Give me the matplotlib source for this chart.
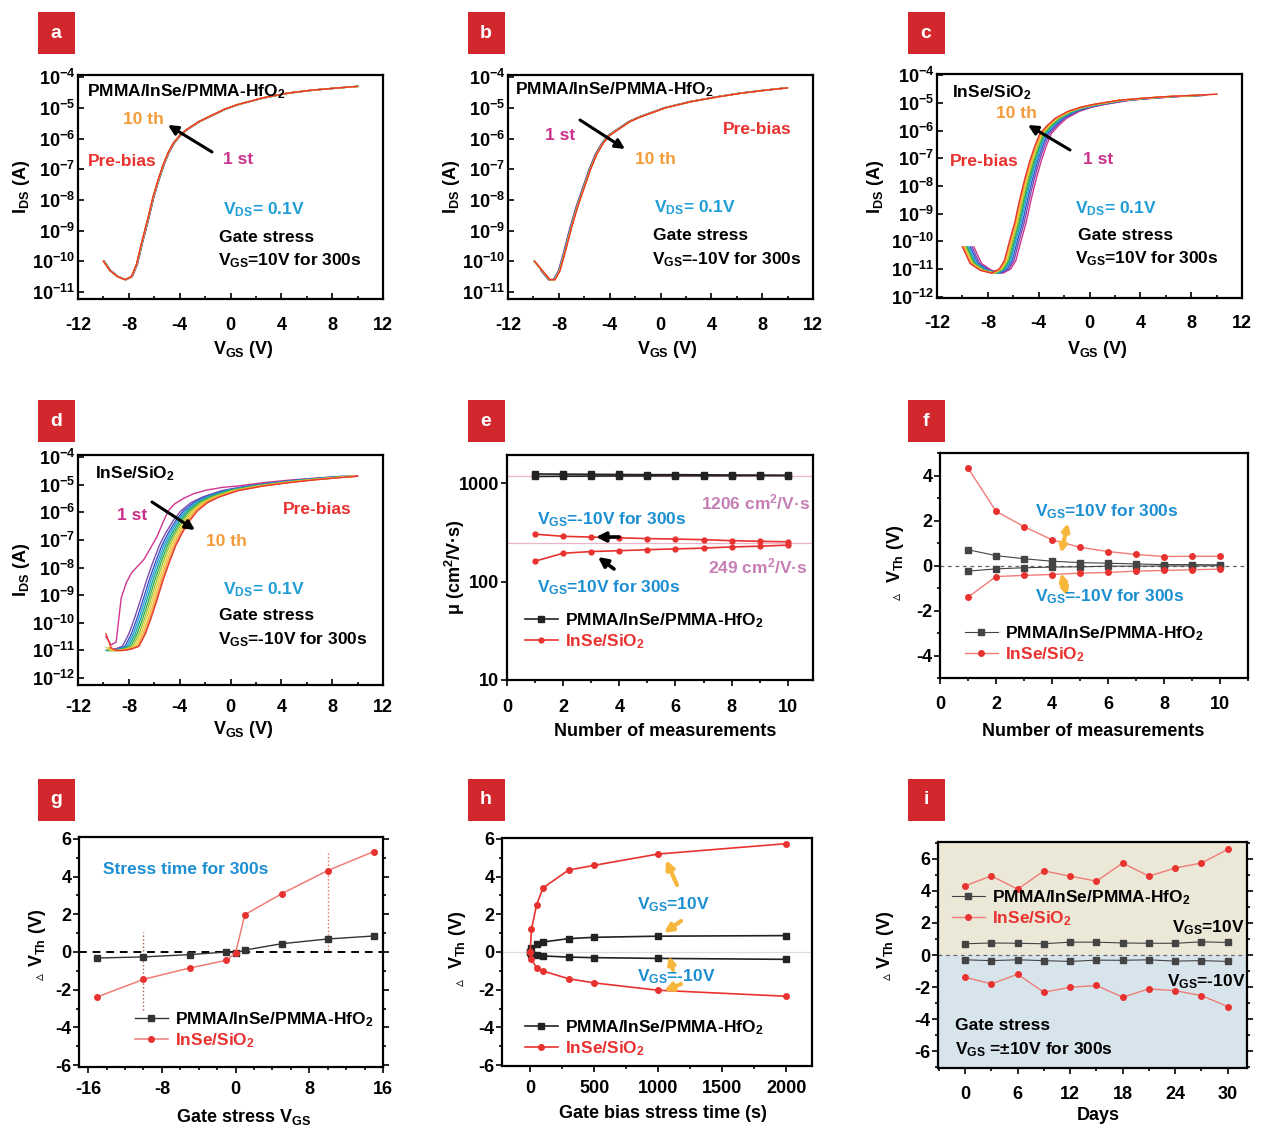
"""Nine-panel InSe transistor stability figure (transfer curves, mobility, threshold shift)."""
import numpy as np
import matplotlib
matplotlib.use("Agg")
import matplotlib.pyplot as plt
from matplotlib import ticker

W, H = 1261, 1128

# ---------------------------------------------------------------- data
# transfer curves: gate voltage (V) and log10(I_DS / A) of the pre-bias sweep,
# plus the horizontal threshold shift (V) of each later sweep (pre-bias, 1st..10th)
A_VG = [-10.0, -9.5, -8.9, -8.3, -7.8, -7.4, -7.0, -6.5, -6.1, -5.7, -5.3, -4.9,
        -4.5, -4.0, -3.5, -2.5, -1.5, -0.5, 0.5, 2.5, 4.5, 6.5, 8.5, 10.0]
A_LOGI = [-10.0, -10.3, -10.5, -10.6, -10.5, -10.1, -9.4, -8.6, -7.9, -7.35, -6.85, -6.45,
          -6.15, -5.9, -5.72, -5.45, -5.25, -5.05, -4.9, -4.68, -4.52, -4.42, -4.35, -4.3]
A_SHIFT = [0, 0.08, 0.06, 0.05, 0.04, 0.03, 0.03, 0.02, 0.02, 0.01, 0.0]

B_VG = [-9.9, -9.3, -8.7, -8.3, -7.9, -7.5, -7.0, -6.5, -6.0, -5.5, -5.0, -4.5,
        -4.0, -3.3, -2.4, -1.6, -0.6, 0.4, 2.4, 4.4, 6.4, 8.4, 10.0]
B_LOGI = [-10.0, -10.3, -10.6, -10.6, -10.3, -9.7, -8.9, -8.2, -7.6, -7.0, -6.5, -6.15,
          -5.9, -5.7, -5.45, -5.3, -5.15, -5.0, -4.8, -4.65, -4.52, -4.42, -4.35]
B_SHIFT = [0, -0.12, -0.1, -0.08, -0.06, -0.05, -0.04, -0.03, -0.02, -0.01, 0.0]

C_VG = [-10.0, -9.4, -8.6, -7.7, -7.1, -6.7, -6.3, -5.9, -5.5, -5.1, -4.7, -4.3,
        -3.9, -3.3, -2.7, -1.7, -0.7, 0.3, 2.3, 4.3, 6.3, 8.3, 10.0]
C_LOGI = [-10.2, -10.8, -11.05, -11.15, -11.0, -10.7, -10.0, -9.35, -8.5, -7.75, -7.1, -6.55,
          -6.1, -5.8, -5.55, -5.3, -5.15, -5.05, -4.9, -4.82, -4.76, -4.72, -4.68]
C_SHIFT = [0, 0.9, 0.75, 0.62, 0.5, 0.4, 0.32, 0.24, 0.16, 0.1, 0.05]

D_VG = [-9.8, -9.4, -9.0, -8.4, -7.8, -7.2, -6.7, -6.3, -5.8, -5.3, -4.8, -4.3,
        -3.8, -3.2, -2.6, -1.8, -0.9, 0.6, 2.6, 4.6, 6.6, 8.6, 10.0]
D_LOGI = [-10.4, -10.9, -11.0, -11.0, -10.95, -10.85, -10.4, -9.9, -9.2, -8.45, -7.8, -7.2,
          -6.75, -6.3, -5.95, -5.65, -5.45, -5.22, -5.05, -4.93, -4.83, -4.75, -4.7]
D_SHIFT = [0, 0, -1.3, -1.1, -0.95, -0.8, -0.65, -0.5, -0.35, -0.2, -0.08]
D_FIRST_VG = [-9.8, -9.4, -9.0, -8.6, -8.2, -7.8, -7.3, -6.8, -6.3, -5.8, -5.3, -4.9,
              -4.4, -3.7, -2.9, -1.9, -0.6, 0.6, 2.6, 4.6, 6.6, 8.6, 10.0]
D_FIRST_LOGI = [-10.5, -10.8, -10.7, -9.1, -8.55, -8.2, -7.95, -7.7, -7.3, -6.9, -6.35, -5.95,
                -5.7, -5.5, -5.33, -5.2, -5.1, -5.05, -4.93, -4.84, -4.77, -4.72, -4.68]

# mobility vs measurement number
E_N = [1, 2, 3, 4, 5, 6, 7, 8, 9, 10]
E_HFO_A = [1250, 1245, 1240, 1235, 1230, 1230, 1225, 1220, 1215, 1210]
E_HFO_B = [1180, 1185, 1190, 1195, 1195, 1200, 1200, 1200, 1205, 1205]
E_SIO_NEG = [305, 290, 285, 280, 275, 272, 268, 262, 258, 255]
E_SIO_POS = [162, 195, 203, 207, 212, 216, 220, 226, 230, 236]
E_REF = [1206, 249]

# threshold shift vs measurement number
F_N = [1, 2, 3, 4, 5, 6, 7, 8, 9, 10]
F_SIO_POS = [4.33, 2.41, 1.73, 1.14, 0.81, 0.62, 0.49, 0.40, 0.41, 0.41]
F_SIO_NEG = [-1.41, -0.49, -0.44, -0.40, -0.34, -0.31, -0.25, -0.22, -0.19, -0.16]
F_HFO_POS = [0.70, 0.44, 0.30, 0.19, 0.13, 0.10, 0.07, 0.04, 0.04, 0.03]
F_HFO_NEG = [-0.25, -0.15, -0.10, -0.07, -0.06, -0.03, -0.03, -0.02, -0.02, -0.01]

# threshold shift vs gate stress voltage
G_VGS = [-15, -10, -5, -1, 0, 1, 5, 10, 15]
G_HFO = [-0.32, -0.26, -0.14, 0.0, -0.05, 0.10, 0.44, 0.69, 0.85]
G_SIO = [-2.38, -1.45, -0.85, -0.44, -0.05, 1.98, 3.09, 4.32, 5.33]
G_ERR_X = [-10, 10]
G_ERR_LO = [-3.1, 0.1]
G_ERR_HI = [1.05, 5.35]

# threshold shift vs stress time
H_T = [0, 10, 50, 100, 300, 500, 1000, 2000]
H_SIO_POS = [0, 1.2, 2.5, 3.4, 4.35, 4.6, 5.2, 5.75]
H_SIO_NEG = [0, -0.39, -0.84, -1.01, -1.42, -1.64, -2.03, -2.35]
H_HFO_POS = [0, 0.23, 0.41, 0.53, 0.71, 0.78, 0.84, 0.87]
H_HFO_NEG = [0, -0.09, -0.18, -0.21, -0.27, -0.30, -0.34, -0.39]

# threshold shift vs days
I_DAYS = [0, 3, 6, 9, 12, 15, 18, 21, 24, 27, 30]
I_SIO_POS = [4.31, 4.93, 4.10, 5.24, 4.91, 4.60, 5.73, 4.91, 5.42, 5.73, 6.58]
I_SIO_NEG = [-1.39, -1.80, -1.20, -2.32, -2.01, -1.90, -2.63, -2.11, -2.22, -2.53, -3.21]
I_HFO_POS = [0.70, 0.75, 0.73, 0.70, 0.80, 0.80, 0.75, 0.73, 0.73, 0.82, 0.78]
I_HFO_NEG = [-0.30, -0.35, -0.30, -0.35, -0.40, -0.32, -0.33, -0.30, -0.38, -0.35, -0.40]

# ---------------------------------------------------------------- style
CURVE_COLORS = ["#e8372f", "#d0348e", "#7a4cb0", "#3a55c8", "#2aa0dc", "#1aa79d",
                "#3db04a", "#9ac43c", "#e8cf2e", "#f6b347", "#f39a3a"]
RED = "#e8322f"
RED_LINE = "#ef7d76"
ORANGE = "#f29b38"
MAGENTA = "#c9318a"
CYAN = "#1f9ed6"
BLUE = "#1c8fd2"
PINK = "#c67fb5"
YELLOW = "#f6b73c"
FS = 12.5

plt.rcParams.update({
    "font.family": ["Liberation Sans", "DejaVu Sans"],
    "font.weight": "bold",
    "axes.labelweight": "bold",
    "axes.unicode_minus": False,
    "mathtext.fontset": "custom",
    "mathtext.rm": "Liberation Sans:bold",
    "mathtext.it": "Liberation Sans:bold",
    "mathtext.bf": "Liberation Sans:bold",
    "mathtext.default": "rm",
    "axes.linewidth": 1.6,
})

fig = plt.figure(figsize=(W / 100, H / 100), dpi=100)


def add_ax(box):
    l, t, r, b = box
    return fig.add_axes([l / W, 1 - b / H, (r - l) / W, (b - t) / H])


def fxy(x, y):
    return (x / W, 1 - y / H)


def ftext(x, y, s, color="black", size=FS, ha="left"):
    fig.text(x / W, 1 - y / H, s, color=color, fontsize=size, ha=ha, va="center")


def farrow(ax, tail, head, color="black", lw=2.2, style="-|>", ms=14):
    ax.annotate("", xy=fxy(*head), xytext=fxy(*tail), xycoords="figure fraction",
                arrowprops=dict(arrowstyle=style, color=color, lw=lw, mutation_scale=ms,
                                shrinkA=0, shrinkB=0))


def labels(ax, box, xlabel, xpos, ylabel, ypos):
    l, t, r, b = box
    ax.set_xlabel(xlabel, fontsize=13)
    ax.xaxis.set_label_coords((xpos[0] - l) / (r - l), (b - xpos[1]) / (b - t))
    ax.xaxis.label.set_va("center")
    ax.set_ylabel(ylabel, fontsize=13)
    ax.yaxis.set_label_coords((ypos[0] - l) / (r - l), (b - ypos[1]) / (b - t))
    ax.yaxis.label.set_va("center")


def delta_mark(x, y):
    # small open triangle in front of the V_Th axis label
    fig.text(x / W, 1 - y / H, "\u25b5", family="DejaVu Sans", fontsize=10,
             rotation=90, ha="center", va="center")


def legend(ax, box, handles, x_px, y_px):
    l, t, r, b = box
    leg = ax.legend(handles, ["PMMA/InSe/PMMA-HfO$_2$", "InSe/SiO$_2$"], loc="center left",
                    bbox_to_anchor=((x_px - l) / (r - l), (b - y_px) / (b - t)),
                    frameon=False, fontsize=FS, handlelength=1.9, handletextpad=0.4,
                    labelspacing=0.15, borderpad=0, borderaxespad=0)
    leg.get_texts()[1].set_color(RED)


def panel_tag(x, y, letter):
    fig.add_artist(plt.Rectangle(((x - 18.5) / W, 1 - (y + 21) / H), 37 / W, 42 / H,
                                 transform=fig.transFigure, color="#d2272c", lw=0))
    fig.text(x / W, 1 - y / H, letter, color="white", fontsize=14, ha="center", va="center")


def transfer(ax, vg, logi, shifts, ylim, xpad, first=None):
    vg = np.asarray(vg)
    logi = np.asarray(logi)
    for k in list(range(1, 11)) + [0]:
        if k == 1 and first is not None:
            x, y = np.asarray(first[0]), np.asarray(first[1])
        else:
            x = vg + shifts[k]
            keep = (x >= vg[0] - 0.05) & (x <= vg[-1] + 0.05)
            x, y = x[keep], logi[keep]
        ax.plot(x, 10.0 ** y, color=CURVE_COLORS[k], lw=1.0)
    ax.set_yscale("log")
    ax.set_ylim(10.0 ** ylim[0], 10.0 ** ylim[1])
    ax.set_xlim(-12, 12)
    ax.xaxis.set_major_locator(ticker.MultipleLocator(4))
    ax.xaxis.set_minor_locator(ticker.MultipleLocator(2))
    # only the decades inside the view, so no hidden labels sit under the x ticks
    decades = np.arange(np.ceil(ylim[0]), np.floor(ylim[1]) + 1)
    ax.yaxis.set_major_locator(ticker.FixedLocator(10.0 ** decades))
    ax.yaxis.set_minor_locator(ticker.NullLocator())
    ax.tick_params(which="both", direction="in", width=1.2, labelsize=13)
    ax.tick_params(which="major", length=4)
    ax.tick_params(which="minor", length=2.5)
    ax.tick_params(axis="x", pad=xpad)
    ax.tick_params(axis="y", pad=2)


def lin_ticks(ax, xmaj, xmin, ymaj, ymin, xpad):
    ax.xaxis.set_major_locator(ticker.MultipleLocator(xmaj))
    ax.xaxis.set_minor_locator(ticker.MultipleLocator(xmin))
    ax.yaxis.set_major_locator(ticker.MultipleLocator(ymaj))
    ax.yaxis.set_minor_locator(ticker.MultipleLocator(ymin))
    ax.tick_params(which="both", direction="out", width=1.2, labelsize=13)
    ax.tick_params(which="major", length=4)
    ax.tick_params(which="minor", length=2.5)
    ax.tick_params(axis="x", pad=xpad)
    ax.tick_params(axis="y", pad=1.5)


VGS_LBL = "V$_{GS}$ (V)"
IDS_LBL = "I$_{DS}$ (A)"
VTH_LBL = "V$_{Th}$ (V)"

# ---------------------------------------------------------------- a
BOX_A = (78, 75, 383, 299)
ax = add_ax(BOX_A)
transfer(ax, A_VG, A_LOGI, A_SHIFT, (-11.23, -3.93), 13)
labels(ax, BOX_A, VGS_LBL, (243, 350), IDS_LBL, (22, 187))
ftext(87, 92, "PMMA/InSe/PMMA-HfO$_2$")
ftext(123, 120, "10 th", ORANGE)
ftext(88, 162, "Pre-bias", RED)
ftext(223, 160, "1 st", MAGENTA)
ftext(223, 210, "V$_{DS}$= 0.1V", CYAN)
ftext(219, 237, "Gate stress")
ftext(218, 261, "V$_{GS}$=10V for 300s")
farrow(ax, (212, 152), (168, 125))
panel_tag(56, 33, "a")

# ---------------------------------------------------------------- b
BOX_B = (508, 75, 813, 299)
ax = add_ax(BOX_B)
transfer(ax, B_VG, B_LOGI, B_SHIFT, (-11.23, -3.93), 13)
labels(ax, BOX_B, VGS_LBL, (667, 350), IDS_LBL, (452, 187))
ftext(515, 90, "PMMA/InSe/PMMA-HfO$_2$")
ftext(545, 135, "1 st", MAGENTA)
ftext(635, 160, "10 th", ORANGE)
ftext(723, 130, "Pre-bias", RED)
ftext(654, 208, "V$_{DS}$= 0.1V", CYAN)
ftext(653, 235, "Gate stress")
ftext(652, 260, "V$_{GS}$=-10V for 300s")
farrow(ax, (580, 120), (625, 149))
panel_tag(486, 33, "b")

# ---------------------------------------------------------------- c
BOX_C = (937, 74, 1242, 298)
ax = add_ax(BOX_C)
transfer(ax, C_VG, C_LOGI, C_SHIFT, (-12.05, -3.95), 12)
labels(ax, BOX_C, VGS_LBL, (1097, 350), IDS_LBL, (876, 187))
ftext(952, 93, "InSe/SiO$_2$")
ftext(996, 114, "10 th", ORANGE)
ftext(950, 162, "Pre-bias", RED)
ftext(1083, 160, "1 st", MAGENTA)
ftext(1075, 209, "V$_{DS}$= 0.1V", CYAN)
ftext(1078, 236, "Gate stress")
ftext(1075, 259, "V$_{GS}$=10V for 300s")
farrow(ax, (1070, 150), (1028, 125))
panel_tag(926, 33, "c")

# ---------------------------------------------------------------- d
BOX_D = (78, 455, 383, 685)
ax = add_ax(BOX_D)
transfer(ax, D_VG, D_LOGI, D_SHIFT, (-12.25, -3.93), 10, first=(D_FIRST_VG, D_FIRST_LOGI))
labels(ax, BOX_D, VGS_LBL, (243, 730), IDS_LBL, (22, 570))
ftext(95, 474, "InSe/SiO$_2$")
ftext(117, 516, "1 st", MAGENTA)
ftext(206, 541, "10 th", ORANGE)
ftext(283, 510, "Pre-bias", RED)
ftext(223, 590, "V$_{DS}$= 0.1V", CYAN)
ftext(219, 616, "Gate stress")
ftext(218, 640, "V$_{GS}$=-10V for 300s")
farrow(ax, (152, 502), (195, 530))
panel_tag(56, 421, "d")

# ---------------------------------------------------------------- e
BOX_E = (507, 455, 813, 680)
ax = add_ax(BOX_E)
for ref in E_REF:
    ax.axhline(ref, color="#eab4c9", lw=0.9, zorder=1)
ax.plot(E_N, E_HFO_A, color="#222222", lw=1.2, marker="s", ms=4.5)
hb, = ax.plot(E_N, E_HFO_B, color="#222222", lw=1.2, marker="s", ms=4.5)
ax.plot(E_N, E_SIO_NEG, color=RED, lw=1.2, marker="o", ms=3.5)
hr, = ax.plot(E_N, E_SIO_POS, color=RED, lw=1.2, marker="o", ms=3.5)
ax.set_yscale("log")
ax.set_ylim(10, 1950)
ax.set_xlim(0, 10.9)
ax.xaxis.set_major_locator(ticker.MultipleLocator(2))
ax.xaxis.set_minor_locator(ticker.MultipleLocator(1))
ax.yaxis.set_major_locator(ticker.FixedLocator([10, 100, 1000]))
ax.yaxis.set_major_formatter(ticker.StrMethodFormatter("{x:.0f}"))
ax.yaxis.set_minor_locator(ticker.NullLocator())
ax.tick_params(which="both", direction="out", width=1.2, labelsize=13)
ax.tick_params(which="major", length=4)
ax.tick_params(which="minor", length=2.5)
ax.tick_params(axis="x", pad=10)
ax.tick_params(axis="y", pad=1.5)
labels(ax, BOX_E, "Number of measurements", (665, 731), "\u03bc (cm$^2$/V\u00b7s)", (455, 567))
legend(ax, BOX_E, [hb, hr], 525, 631)
ftext(810, 502, "1206 cm$^2$/V\u00b7s", PINK, ha="right")
ftext(537, 520, "V$_{GS}$=-10V for 300s", BLUE)
ftext(808, 566, "249 cm$^2$/V\u00b7s", PINK, ha="right")
ftext(537, 588, "V$_{GS}$=10V for 300s", BLUE)
farrow(ax, (619, 537), (596, 537), lw=2.6)
farrow(ax, (614, 569), (598, 557), lw=2.6)
panel_tag(486, 421, "e")

# ---------------------------------------------------------------- f
BOX_F = (940, 453, 1248, 678)
ax = add_ax(BOX_F)
ax.axhline(0, color="#666666", lw=0.9, ls=(0, (3, 3)))
ax.plot(F_N, F_HFO_POS, color="#444444", lw=0.8, marker="s", ms=4)
hb, = ax.plot(F_N, F_HFO_NEG, color="#444444", lw=0.8, marker="s", ms=4)
ax.plot(F_N, F_SIO_POS, color=RED_LINE, lw=1.0, marker="o", ms=4, mfc=RED, mec=RED)
hr, = ax.plot(F_N, F_SIO_NEG, color=RED_LINE, lw=1.0, marker="o", ms=4, mfc=RED, mec=RED)
ax.set_xlim(0, 11)
ax.set_ylim(-5, 5)
lin_ticks(ax, 2, 1, 2, 1, 9)
labels(ax, BOX_F, "Number of measurements", (1093, 732), VTH_LBL, (895, 554))
delta_mark(897, 596)
legend(ax, BOX_F, [hb, hr], 965, 644)
ftext(1035, 512, "V$_{GS}$=10V for 300s", BLUE)
ftext(1035, 597, "V$_{GS}$=-10V for 300s", BLUE)
farrow(ax, (1061, 553), (1068, 523), YELLOW, lw=3, style="<|-|>", ms=10)
farrow(ax, (1061, 573), (1067, 596), YELLOW, lw=3, style="<|-|>", ms=10)
panel_tag(926, 421, "f")

# ---------------------------------------------------------------- g
BOX_G = (79, 837, 383, 1067)
ax = add_ax(BOX_G)
ax.axhline(0, color="black", lw=1.4, ls=(0, (4, 3)))
ax.vlines(G_ERR_X, G_ERR_LO, G_ERR_HI, colors=["#b05a50", "#e8704f"], lw=1.0, linestyles=":")
hb, = ax.plot(G_VGS, G_HFO, color="#333333", lw=1.0, marker="s", ms=4)
hr, = ax.plot(G_VGS, G_SIO, color=RED_LINE, lw=1.1, marker="o", ms=4, mfc=RED, mec=RED)
ax.set_xlim(-17, 16)
ax.set_ylim(-6.1, 6.1)
lin_ticks(ax, 8, 2, 2, 1, 6)
ax.tick_params(which="both", right=True)
labels(ax, BOX_G, "Gate stress V$_{GS}$", (243, 1117), VTH_LBL, (38, 938))
delta_mark(40, 977)
legend(ax, BOX_G, [hb, hr], 135, 1030)
ftext(103, 870, "Stress time for 300s", BLUE)
panel_tag(56, 800, "g")

# ---------------------------------------------------------------- h
BOX_H = (502, 838, 812, 1066)
ax = add_ax(BOX_H)
ax.axhline(0, color="#dddddd", lw=0.9)
ax.plot(H_T, H_HFO_POS, color="#222222", lw=1.2, marker="s", ms=4)
hb, = ax.plot(H_T, H_HFO_NEG, color="#222222", lw=1.2, marker="s", ms=4)
ax.plot(H_T, H_SIO_POS, color=RED, lw=1.2, marker="o", ms=4)
hr, = ax.plot(H_T, H_SIO_NEG, color=RED, lw=1.2, marker="o", ms=4)
ax.set_xlim(-220, 2200)
ax.set_ylim(-6.05, 6.05)
lin_ticks(ax, 500, 250, 2, 1, 6)
labels(ax, BOX_H, "Gate bias stress time (s)", (663, 1113), VTH_LBL, (458, 940))
delta_mark(460, 982)
legend(ax, BOX_H, [hb, hr], 525, 1038)
ftext(637, 905, "V$_{GS}$=10V", BLUE)
ftext(637, 977, "V$_{GS}$=-10V", BLUE)
farrow(ax, (677, 885), (666, 860), YELLOW, lw=3, ms=12)
farrow(ax, (681, 921), (664, 933), YELLOW, lw=3, ms=12)
farrow(ax, (673, 970), (669, 956), YELLOW, lw=3, ms=10)
farrow(ax, (681, 984), (664, 991), YELLOW, lw=3, ms=12)
panel_tag(486, 800, "h")

# ---------------------------------------------------------------- i
BOX_I = (938, 842, 1247, 1068)
ax = add_ax(BOX_I)
ax.axhspan(0, 7.1, color="#ebe8d8", lw=0, zorder=0)
ax.axhspan(-7.1, 0, color="#d8e4ec", lw=0, zorder=0)
ax.axhline(0, color="#666666", lw=0.9, ls=(0, (3, 3)))
ax.plot(I_DAYS, I_HFO_POS, color="#444444", lw=0.8, marker="s", ms=4)
hb, = ax.plot(I_DAYS, I_HFO_NEG, color="#444444", lw=0.8, marker="s", ms=4)
ax.plot(I_DAYS, I_SIO_POS, color=RED_LINE, lw=1.0, marker="o", ms=4, mfc=RED, mec=RED)
hr, = ax.plot(I_DAYS, I_SIO_NEG, color=RED_LINE, lw=1.0, marker="o", ms=4, mfc=RED, mec=RED)
ax.set_xlim(-3.1, 32.2)
ax.set_ylim(-7.04, 7.04)
lin_ticks(ax, 6, 3, 2, 1, 9)
ax.tick_params(which="both", right=True)
labels(ax, BOX_I, "Days", (1098, 1116), VTH_LBL, (885, 940))
delta_mark(887, 976)
legend(ax, BOX_I, [hb, hr], 952, 908)
ftext(1245, 928, "V$_{GS}$=10V", ha="right")
ftext(1245, 982, "V$_{GS}$=-10V", ha="right")
ftext(955, 1026, "Gate stress")
ftext(955, 1050, "V$_{GS}$ =\u00b110V for 300s")
panel_tag(926, 800, "i")

fig.savefig("out.png", dpi=100)
